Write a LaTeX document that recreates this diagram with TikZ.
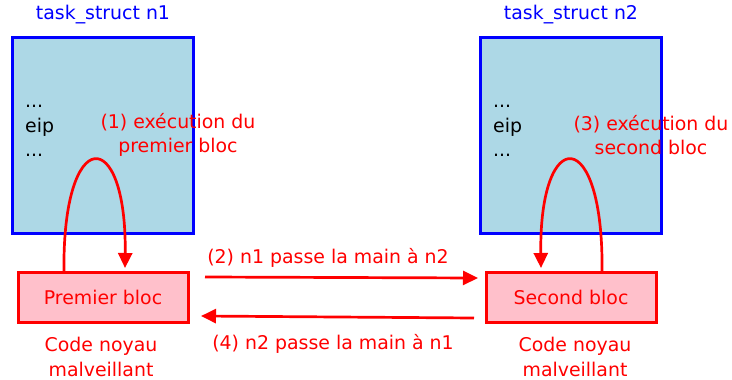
\documentclass[tikz,border=0pt]{standalone}
\usepackage{fontspec}
\setmainfont{DejaVu Sans}
\usetikzlibrary{arrows.meta}
\definecolor{lblue}{RGB}{173,216,230}
\definecolor{lpink}{RGB}{255,192,203}
\begin{document}
\begin{tikzpicture}[x=1pt,y=-1pt,
  every node/.style={font=\fontsize{18.9}{24.5}\selectfont, inner sep=0pt},
  title/.style={text=blue},
  task/.style={draw=blue, line width=3pt, fill=lblue},
  bloc/.style={draw=red, line width=3pt, fill=lpink, text=red},
  lbl/.style={text=red, align=center},
  txt/.style={text=black, align=left, anchor=west},
  flow/.style={draw=red, line width=2.7pt, -{Triangle[length=15pt,width=14pt]}},
  arc/.style={draw=red, line width=2.7pt}
]
\useasboundingbox (0,0) rectangle (732,380);
\node[title] (t1) at (103,15) {task\_struct n1};
\node[title] (t2) at (571,15) {task\_struct n2};
\path[task] (12,37) rectangle (193,233);
\path[task] (480,37) rectangle (661,233);
\node[txt] (m1) at (25,131) {...\\eip\\...};
\node[txt] (m2) at (493,131) {...\\eip\\...};
\node[lbl] (l1) at (178,135) {(1) exécution du\\premier bloc};
\node[lbl] (l3) at (651,135) {(3) exécution du\\second bloc};
\node[bloc, minimum width=170pt, minimum height=50pt] (b1) at (103,297) {Premier bloc};
\node[bloc, minimum width=170pt, minimum height=50pt] (b2) at (571,297) {Second bloc};
\node[lbl] (c1) at (101,357) {Code noyau\\malveillant};
\node[lbl] (c2) at (575,357) {Code noyau\\malveillant};
\coordinate (a1s) at (64,272);
\coordinate (a1e) at (125,268);
\draw[arc, -{Triangle[length=15pt,width=14pt]}] (a1s) .. controls (62,124) and (127,124) .. (a1e);
\coordinate (a2s) at (602,272);
\coordinate (a2e) at (541,268);
\draw[arc, -{Triangle[length=15pt,width=14pt]}] (a2s) .. controls (604,124) and (539,124) .. (a2e);
\coordinate (f2s) at (205,277);
\coordinate (f2e) at (478,278);
\draw[flow] (f2s) -- (f2e);
\coordinate (f4s) at (474,318);
\coordinate (f4e) at (201,316);
\draw[flow] (f4s) -- (f4e);
\node[lbl] (l2) at (328,258) {(2) n1 passe la main à n2};
\node[lbl] (l4) at (333,344) {(4) n2 passe la main à n1};
\end{tikzpicture}
\end{document}
